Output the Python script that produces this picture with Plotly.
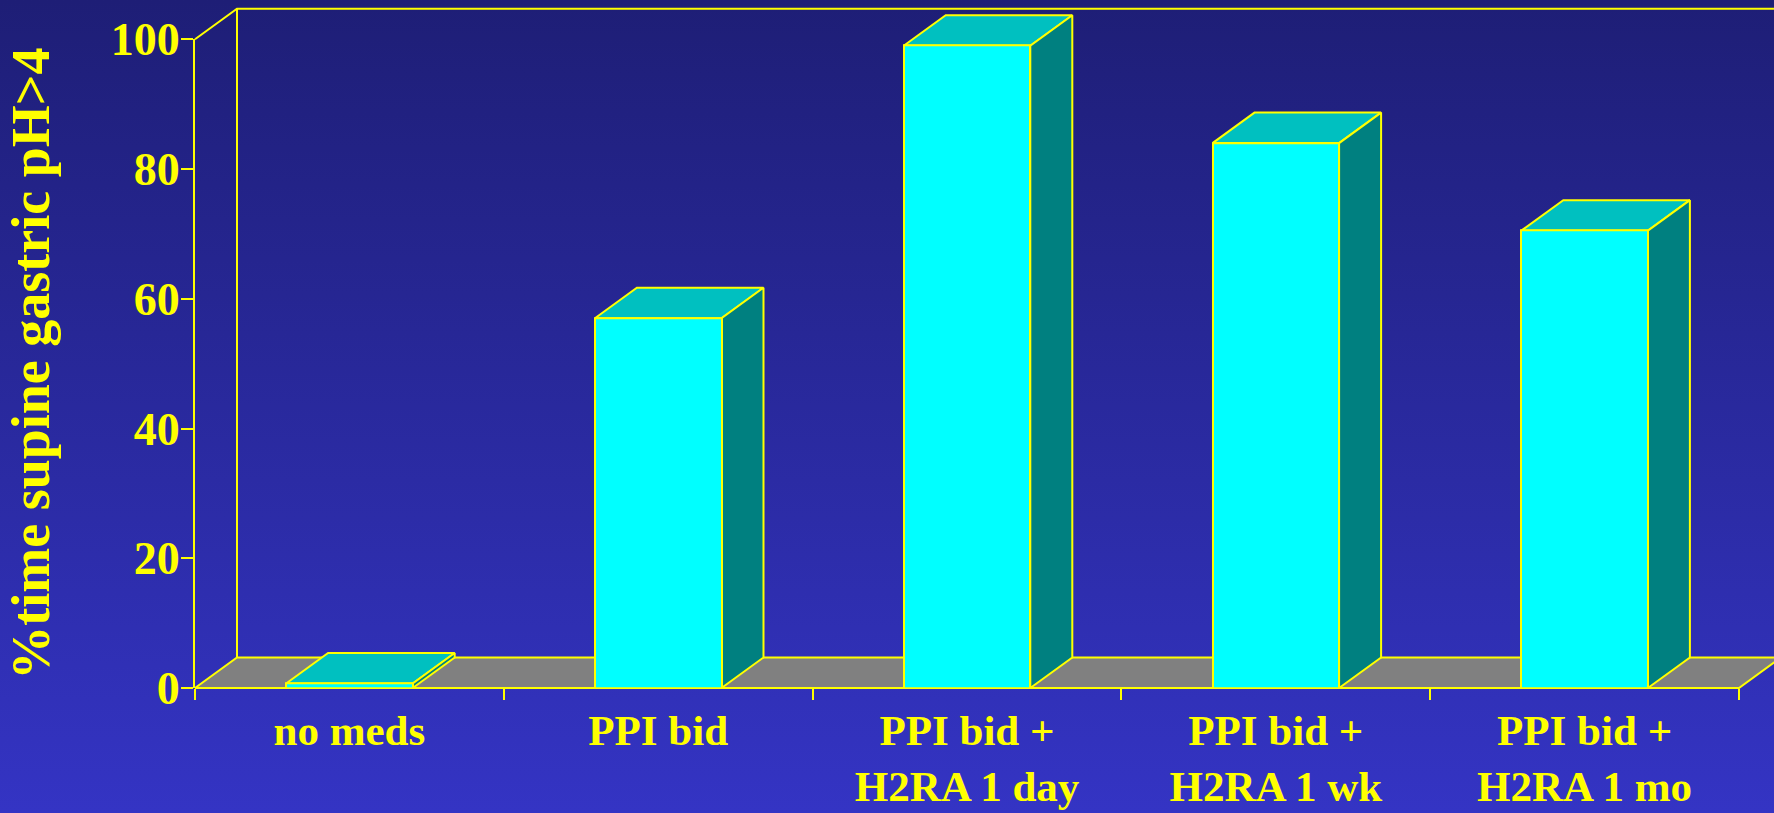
import base64
import plotly.graph_objects as go

# ---------------- data ----------------
categories = ["no meds", "PPI bid", "PPI bid +<br>H2RA 1 day",
              "PPI bid +<br>H2RA 1 wk", "PPI bid +<br>H2RA 1 mo"]
values = [0.7, 57, 99, 84, 70.5]
y_ticks = [0, 20, 40, 60, 80, 100]
y_title = "%time supine gastric pH>4"

# ---------------- layout geometry (pixels) ----------------
W, H = 1774, 813
L_PLOT = 183          # left edge of main plot area
AX_X = 195            # pixel of front y axis
CAT_PX = 308.8        # pixels per category
Y0_PX = 688           # pixel of value 0
PX_PER_UNIT = 6.487   # pixels per y unit
B_PX = 702            # bottom of main plot area
DEPTH_X = 42 / CAT_PX       # 3-D depth offset (category units)
DEPTH_Y = 30.5 / PX_PER_UNIT  # 3-D depth offset (value units)
BAR_W = 0.41

YEL = "#FFFF00"
FONT = "Liberation Serif"

x_start = -0.5 - (AX_X - L_PLOT) / CAT_PX
x_end = -0.5 + (W - AX_X) / CAT_PX
y_lo = -(B_PX - Y0_PX) / PX_PER_UNIT
y_hi = Y0_PX / PX_PER_UNIT

n = len(categories)
xs = list(range(n))

fig = go.Figure()

# floor
fx = [-0.5, n - 0.5, n - 0.5 + DEPTH_X, -0.5 + DEPTH_X, -0.5]
fy = [0, 0, DEPTH_Y, DEPTH_Y, 0]
fig.add_trace(go.Scatter(x=fx, y=fy, mode="lines", fill="toself",
                         fillcolor="#808080", line=dict(color=YEL, width=2),
                         hoverinfo="skip", showlegend=False))

# back wall + left wall edges
top_v = y_ticks[-1]
wx = [-0.5, -0.5 + DEPTH_X, n + 1, None, -0.5 + DEPTH_X, -0.5 + DEPTH_X]
wy = [top_v, top_v + DEPTH_Y, top_v + DEPTH_Y, None, top_v + DEPTH_Y, DEPTH_Y]
fig.add_trace(go.Scatter(x=wx, y=wy, mode="lines", line=dict(color=YEL, width=2),
                         hoverinfo="skip", showlegend=False))

# top and side faces of bars, from data
tx, ty, sx, sy = [], [], [], []
for i, v in zip(xs, values):
    l, r = i - BAR_W / 2, i + BAR_W / 2
    tx += [l, r, r + DEPTH_X, l + DEPTH_X, l, None]
    ty += [v, v, v + DEPTH_Y, v + DEPTH_Y, v, None]
    sx += [r, r + DEPTH_X, r + DEPTH_X, r, r, None]
    sy += [0, DEPTH_Y, v + DEPTH_Y, v, 0, None]
fig.add_trace(go.Scatter(x=tx, y=ty, mode="lines", fill="toself",
                         fillcolor="#00C0C0", line=dict(color=YEL, width=2),
                         hoverinfo="skip", showlegend=False))
fig.add_trace(go.Scatter(x=sx, y=sy, mode="lines", fill="toself",
                         fillcolor="#008080", line=dict(color=YEL, width=2),
                         hoverinfo="skip", showlegend=False))

# front faces: bars on the category subplot
fig.add_trace(go.Bar(x=categories, y=values, width=BAR_W,
                     marker=dict(color="#00FFFF", line=dict(color=YEL, width=2)),
                     xaxis="x2", yaxis="y2", hoverinfo="skip", showlegend=False))

# background gradient
svg = (f'<svg xmlns="http://www.w3.org/2000/svg" width="{W}" height="{H}" '
       f'preserveAspectRatio="none"><defs><linearGradient id="g" x1="0" y1="0" x2="0" y2="1">'
       f'<stop offset="0" stop-color="#1E1E76"/><stop offset="1" stop-color="#3434C4"/>'
       f'</linearGradient></defs><rect width="{W}" height="{H}" fill="url(#g)"/></svg>')
src = "data:image/svg+xml;base64," + base64.b64encode(svg.encode()).decode()
pw, ph = W - L_PLOT, B_PX
fig.add_layout_image(dict(source=src, xref="paper", yref="paper",
                          x=-L_PLOT / pw, y=1, sizex=W / pw, sizey=H / ph,
                          xanchor="left", yanchor="top", sizing="stretch",
                          layer="below"))

tick_font = dict(family=FONT, size=43, color=YEL, weight="bold")

fig.update_layout(
    width=W, height=H,
    margin=dict(l=L_PLOT, r=0, t=0, b=H - B_PX, pad=0, autoexpand=False),
    paper_bgcolor="#2A2A9E", plot_bgcolor="rgba(0,0,0,0)",
    showlegend=False, bargap=0,
    xaxis=dict(range=[x_start, x_end], domain=[0, 1], visible=False,
               fixedrange=True, automargin=False),
    yaxis=dict(range=[y_lo, y_hi], domain=[0, 1], visible=False,
               fixedrange=True, automargin=False),
    xaxis2=dict(type="category", anchor="y2", automargin=False,
                domain=[(AX_X - L_PLOT) / pw, 1], range=[-0.5, x_end],
                tickson="boundaries", ticks="outside", ticklen=11, tickwidth=2,
                tickcolor=YEL, showline=False, showgrid=False, zeroline=False,
                tickfont=tick_font, ticklabelstandoff=13, fixedrange=True),
    yaxis2=dict(anchor="x2", automargin=False,
                domain=[(B_PX - Y0_PX) / ph, (B_PX - (Y0_PX - top_v * PX_PER_UNIT)) / ph],
                range=[0, top_v], tickvals=y_ticks, ticks="outside", ticklen=12,
                tickwidth=2, tickcolor=YEL, showline=True, linecolor=YEL, linewidth=2,
                showgrid=False, zeroline=False,
                tickfont=dict(family=FONT, size=46, color=YEL, weight="bold"),
                ticklabelstandoff=-8,
                title=dict(text=y_title, font=dict(family=FONT, size=54, color=YEL, weight="bold"),
                           standoff=44),
                fixedrange=True),
)

fig.write_html("out.html")
